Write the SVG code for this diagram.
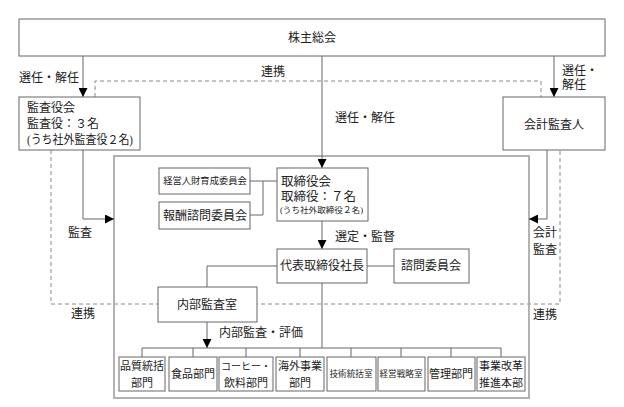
<svg xmlns="http://www.w3.org/2000/svg" width="624" height="407" viewBox="0 0 624 407">
<defs>
<marker id="ah" markerUnits="userSpaceOnUse" markerWidth="9" markerHeight="9" refX="9" refY="4.5" orient="auto">
<path d="M0,0 L9,4.5 L0,9 z" fill="#000"/>
</marker>
<style>
text{font-family:"Liberation Serif","Noto Sans CJK JP",serif;fill:#222;dominant-baseline:central}
.b{fill:#fff;stroke:#666;stroke-width:1}
.c{fill:none;stroke:#666;stroke-width:1}
.a{fill:none;stroke:#666;stroke-width:1;marker-end:url(#ah)}
.d{fill:none;stroke:#888;stroke-width:1;stroke-dasharray:4,3}
.t12{font-size:12px}
.t11{font-size:11px}
.m{text-anchor:middle}
</style>
</defs>
<rect width="624" height="407" fill="#fff"/>

<!-- dashed links (連携) -->
<g id="links">
<path class="d" d="M95,97 V81 H541 V97"/>
<path class="d" d="M51,150 V304 H560 V150"/>
</g>

<!-- inner company frame -->
<rect id="frame" x="114" y="156" width="415" height="242" fill="none" stroke="#aaa" stroke-width="1.8"/>

<g id="connectors">
<line class="a" x1="83" y1="56" x2="83" y2="97"/>
<line class="a" x1="554" y1="56" x2="554" y2="97"/>
<line class="a" x1="322" y1="56" x2="322" y2="168"/>
<path class="a" d="M83,150 V219 H114"/>
<path class="a" d="M547,150 V219 H529"/>
<path class="c" d="M250,181 H277 M263,181 V215 H250"/>
<line class="a" x1="322" y1="221" x2="322" y2="249"/>
<line class="c" x1="367" y1="266" x2="394" y2="266"/>
<path class="c" d="M277,266 H207 V287"/>
<line class="a" x1="207" y1="322" x2="207" y2="348"/>
<line class="c" x1="322" y1="283" x2="322" y2="348"/>
<path class="c" d="M142,357 V348 H501 V357 M193,348 V357 M246,348 V357 M300,348 V357 M351,348 V357 M401,348 V357 M451,348 V357"/>
</g>

<g id="labels">
<text class="t12" x="19" y="78">選任・解任</text>
<text class="t12 m" x="273" y="72">連携</text>
<text class="t12" x="562" y="71">選任・</text>
<text class="t12" x="562" y="85">解任</text>
<text class="t12" x="335" y="118">選任・解任</text>
<text class="t12" x="68" y="233">監査</text>
<text class="t12" x="533" y="233">会計</text>
<text class="t12" x="533" y="250">監査</text>
<text class="t12" x="335" y="237">選定・監督</text>
<text class="t12" x="219" y="333">内部監査・評価</text>
<text class="t12 m" x="83" y="314">連携</text>
<text class="t12 m" x="545" y="315">連携</text>
</g>

<g id="shareholders">
<rect class="b" x="19" y="19" width="586" height="37"/>
<text class="t12 m" x="312" y="38">株主総会</text>
</g>

<g id="auditboard">
<rect class="b" x="19" y="97" width="121" height="53"/>
<text class="t12" x="27" y="108">監査役会</text>
<text class="t12" x="27" y="124">監査役：３名</text>
<text class="t12" x="27" y="140" textLength="106" lengthAdjust="spacingAndGlyphs">(うち社外監査役２名)</text>
</g>

<g id="accountant">
<rect class="b" x="503" y="97" width="102" height="53"/>
<text class="t12 m" x="554" y="125">会計監査人</text>
</g>

<g id="hrcommittee">
<rect class="b" x="159" y="168" width="91" height="26"/>
<text class="m" x="205" y="181" font-size="9.3">経営人財育成委員会</text>
</g>

<g id="paycommittee">
<rect class="b" x="159" y="202" width="91" height="27"/>
<text class="t12 m" x="205" y="216">報酬諮問委員会</text>
</g>

<g id="board">
<rect class="b" x="277" y="168" width="91" height="53"/>
<text x="281" y="182" font-size="12.5">取締役会</text>
<text x="281" y="197" font-size="12.5">取締役：７名</text>
<text x="280" y="210" font-size="8.5" textLength="83" lengthAdjust="spacingAndGlyphs">(うち社外取締役２名)</text>
</g>

<g id="president">
<rect class="b" x="277" y="249" width="90" height="34"/>
<text class="t12 m" x="322" y="266">代表取締役社長</text>
</g>

<g id="advisory">
<rect class="b" x="394" y="249" width="75" height="34"/>
<text class="t12 m" x="431" y="266">諮問委員会</text>
</g>

<g id="internalaudit">
<rect class="b" x="158" y="287" width="99" height="35"/>
<text class="t12 m" x="207" y="305">内部監査室</text>
</g>

<g id="dept1">
<rect class="b" x="119" y="357" width="46" height="34"/>
<text class="t11 m" x="142" y="366">品質統括</text>
<text class="t11 m" x="142" y="383">部門</text>
</g>
<g id="dept2">
<rect class="b" x="169" y="357" width="48" height="34"/>
<text class="t11 m" x="193" y="374">食品部門</text>
</g>
<g id="dept3">
<rect class="b" x="219" y="357" width="54" height="34"/>
<text class="m" x="246" y="366" font-size="10">コーヒー・</text>
<text class="t11 m" x="246" y="383">飲料部門</text>
</g>
<g id="dept4">
<rect class="b" x="276" y="357" width="48" height="34"/>
<text class="t11 m" x="300" y="366">海外事業</text>
<text class="t11 m" x="300" y="383">部門</text>
</g>
<g id="dept5">
<rect class="b" x="327" y="357" width="49" height="34"/>
<text class="m" x="351" y="374" font-size="8.6">技術統括室</text>
</g>
<g id="dept6">
<rect class="b" x="378" y="357" width="47" height="34"/>
<text class="m" x="401" y="374" font-size="8.6">経営戦略室</text>
</g>
<g id="dept7">
<rect class="b" x="428" y="357" width="47" height="34"/>
<text class="t11 m" x="451" y="374">管理部門</text>
</g>
<g id="dept8">
<rect class="b" x="477" y="357" width="48" height="34"/>
<text class="t11 m" x="501" y="366">事業改革</text>
<text class="t11 m" x="501" y="383">推進本部</text>
</g>
</svg>
